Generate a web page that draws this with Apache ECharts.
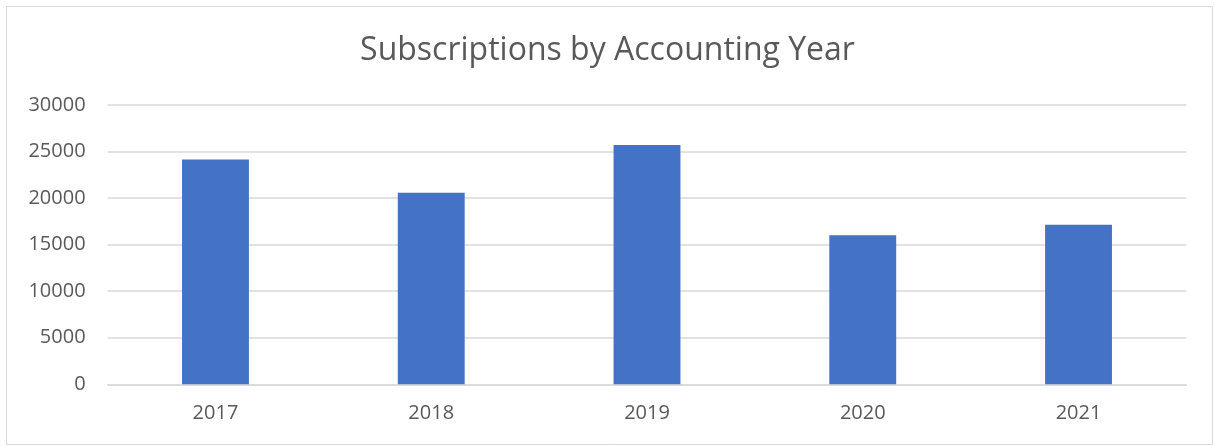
<!DOCTYPE html>
<html>
<head>
<meta charset="utf-8">
<script src="https://cdn.jsdelivr.net/npm/echarts@6/dist/echarts.min.js"></script>
<style>
html,body{margin:0;padding:0;background:#fff;}
#chart{width:1215px;height:446px;}
</style>
</head>
<body>
<div id="chart"></div>
<script>
const categories = ['2017', '2018', '2019', '2020', '2021'];
const subscriptions = [24150, 20580, 25700, 16000, 17140];
const yTicks = { min: 0, max: 30000, interval: 5000 };
const titleText = 'Subscriptions by Accounting Year';

const chart = echarts.init(document.getElementById('chart'), null, { renderer: 'canvas' });
chart.setOption({
  backgroundColor: '#ffffff',
  animation: false,
  graphic: [{
    type: 'rect',
    shape: { x: 6.5, y: 6.5, width: 1206, height: 438 },
    style: { fill: 'none', stroke: '#d9d9d9', lineWidth: 1 },
    silent: true
  }],
  title: {
    text: titleText,
    left: 'center',
    top: 30,
    textStyle: { fontFamily: 'Open Sans', fontSize: 32, fontWeight: 'normal', color: '#595959' }
  },
  grid: { left: 107.6, right: 28.6, top: 105, bottom: 61.7, containLabel: false },
  xAxis: {
    type: 'category',
    data: categories,
    axisLine: { lineStyle: { color: '#d9d9d9', width: 1.5 } },
    axisTick: { show: false },
    axisLabel: { color: '#595959', fontFamily: 'Open Sans', fontSize: 20, margin: 19 }
  },
  yAxis: {
    type: 'value',
    min: yTicks.min,
    max: yTicks.max,
    interval: yTicks.interval,
    axisLine: { show: false },
    axisTick: { show: false },
    splitLine: { lineStyle: { color: '#d9d9d9', width: 1.5 } },
    axisLabel: { color: '#595959', fontFamily: 'Open Sans', fontSize: 20, margin: 22, formatter: v => String(v) }
  },
  series: [{
    type: 'bar',
    data: subscriptions,
    barWidth: '31%',
    itemStyle: { color: '#4472c4' }
  }]
});
</script>
</body>
</html>
